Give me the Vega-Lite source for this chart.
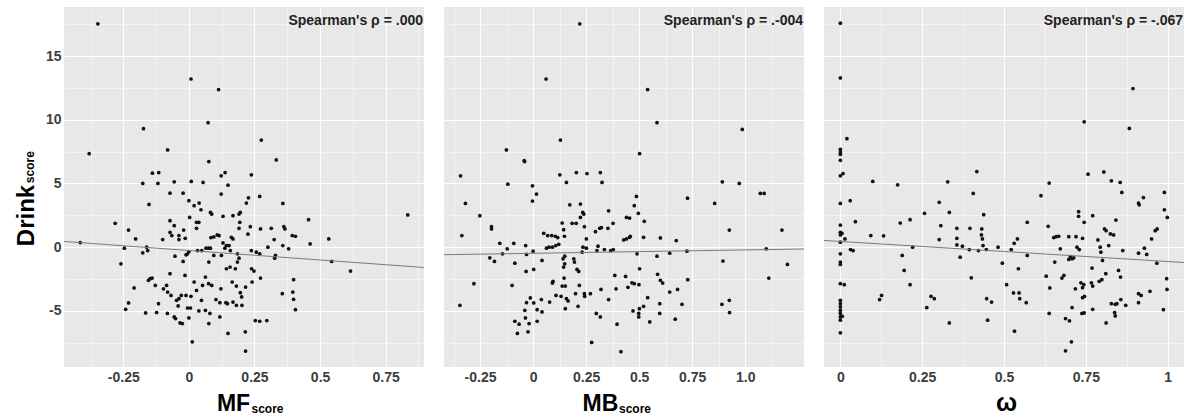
{
"$schema": "https://vega.github.io/schema/vega-lite/v6.json",
"padding": {"left": 14, "top": 7, "right": 5, "bottom": 0},
"spacing": 16,
"config": {
 "view": {"fill": "#e8e8e8", "stroke": null},
 "axis": {"labelFont": "Liberation Sans", "labelFontWeight": "bold", "labelFontSize": 14, "labelColor": "#3d3d3d", "titleFont": "Liberation Sans", "titleFontWeight": "bold", "titleColor": "#000000", "domain": false, "ticks": false, "tickSize": 0, "tickCount": 100, "gridColor": "#ffffff", "labelPadding": 3, "labelOverlap": false, "labelFlush": false},
 "text": {"font": "Liberation Sans"}
},
"datasets": {
 "sub": [{"label": "score"}],
 "a1": [{"label": "Spearman's ρ = .000"}],
 "a2": [{"label": "Spearman's ρ = .-004"}],
 "a3": [{"label": "Spearman's ρ = -.067"}],
 "f1": [{"x": -0.476, "y": 0.45}, {"x": 0.896, "y": -1.59}],
 "f2": [{"x": -0.42, "y": -0.59}, {"x": 1.277, "y": -0.14}],
 "f3": [{"x": -0.05, "y": 0.53}, {"x": 1.05, "y": -1.2}],
 "p1": [
{"x":-0.347,"y":17.53},{"x":0.008,"y":13.2},{"x":0.113,"y":12.37},{"x":0.073,"y":9.77},{"x":-0.173,"y":9.3},{"x":0.276,"y":8.41},{"x":-0.38,"y":7.34},{"x":-0.081,"y":7.63},{"x":0.076,"y":6.72},{"x":0.333,"y":6.85},
{"x":-0.139,"y":5.81},{"x":-0.115,"y":5.86},{"x":0.123,"y":5.6},{"x":0.138,"y":5.86},{"x":0.238,"y":5.68},{"x":-0.176,"y":5.0},{"x":-0.118,"y":5.0},{"x":-0.056,"y":5.13},{"x":0.009,"y":5.16},{"x":0.054,"y":5.08},
{"x":0.149,"y":4.87},{"x":-0.072,"y":4.24},{"x":-0.022,"y":4.24},{"x":0.123,"y":4.17},{"x":0.27,"y":3.98},{"x":0.227,"y":3.88},{"x":-0.152,"y":3.36},{"x":0,"y":3.65},{"x":0.039,"y":3.46},{"x":0.02,"y":3.26},
{"x":0.046,"y":2.94},{"x":0.219,"y":3.46},{"x":0.358,"y":3.44},{"x":0.082,"y":2.73},{"x":0.087,"y":2.6},{"x":-0.072,"y":2.08},{"x":0.003,"y":2.34},{"x":0.029,"y":1.95},{"x":0.038,"y":1.95},{"x":0.13,"y":2.42},
{"x":0.168,"y":2.47},{"x":0.191,"y":2.6},{"x":0.196,"y":2.73},{"x":-0.281,"y":1.875},{"x":-0.23,"y":1.35},{"x":-0.056,"y":1.69},{"x":-0.02,"y":1.35},{"x":0.029,"y":1.48},{"x":0.194,"y":1.95},{"x":0.191,"y":1.48},
{"x":0.234,"y":1.61},{"x":0.273,"y":1.43},{"x":0.314,"y":1.48},{"x":0.362,"y":1.61},{"x":0.366,"y":1.43},{"x":0.456,"y":2.16},{"x":0.834,"y":2.53},{"x":-0.203,"y":0.65},{"x":-0.414,"y":0.36},{"x":-0.1,"y":0.6},
{"x":-0.072,"y":1.17},{"x":-0.065,"y":0.91},{"x":-0.038,"y":0.91},{"x":-0.038,"y":0.6},{"x":-0.014,"y":0.7},{"x":0.084,"y":0.76},{"x":0.095,"y":0.81},{"x":0.108,"y":0.96},{"x":0.115,"y":0.91},{"x":0.13,"y":0.34},
{"x":0.162,"y":0.78},{"x":0.168,"y":0.65},{"x":0.225,"y":1.02},{"x":0.325,"y":0.6},{"x":0.394,"y":0.91},{"x":0.406,"y":0.86},{"x":0.533,"y":0.65},{"x":0.462,"y":0.26},{"x":-0.246,"y":-0.08},{"x":-0.161,"y":0},
{"x":-0.157,"y":-0.26},{"x":-0.176,"y":-0.44},{"x":0,"y":-0.34},{"x":-0.005,"y":-0.52},{"x":0.033,"y":-0.26},{"x":0.049,"y":-0.26},{"x":0.065,"y":-0.08},{"x":0.075,"y":-0.08},{"x":0.082,"y":-0.08},{"x":-0.053,"y":-0.7},
{"x":0.095,"y":-0.65},{"x":0.137,"y":-0.08},{"x":0.143,"y":0.13},{"x":0.153,"y":0.13},{"x":0.158,"y":-0.26},{"x":0.185,"y":-0.52},{"x":0.191,"y":-0.86},{"x":0.238,"y":-0.26},{"x":0.257,"y":-0.39},{"x":0.27,"y":-0.52},
{"x":0.301,"y":0},{"x":0.33,"y":-0.65},{"x":0.327,"y":-0.86},{"x":0.358,"y":0.13},{"x":0.38,"y":-0.13},{"x":0.544,"y":-1.12},{"x":0.616,"y":-1.875},{"x":-0.259,"y":-1.3},{"x":-0.022,"y":-1.12},{"x":0.076,"y":-1.17},
{"x":0.124,"y":-0.65},{"x":0.185,"y":-1.17},{"x":0.143,"y":-1.69},{"x":0.157,"y":-1.56},{"x":0.177,"y":-1.69},{"x":0.239,"y":-1.69},{"x":0.248,"y":-1.875},{"x":-0.148,"y":-2.47},{"x":-0.14,"y":-2.42},{"x":-0.154,"y":-2.6},
{"x":-0.072,"y":-2.08},{"x":-0.015,"y":-2.21},{"x":0.063,"y":-2.34},{"x":0.165,"y":-2.73},{"x":0.241,"y":-2.73},{"x":0.273,"y":-2.42},{"x":0.399,"y":-2.55},{"x":-0.209,"y":-3.2},{"x":-0.128,"y":-3.0},{"x":-0.097,"y":-3.26},
{"x":-0.085,"y":-3.0},{"x":0.02,"y":-2.73},{"x":0.052,"y":-3.0},{"x":0.075,"y":-2.86},{"x":0.087,"y":-3.0},{"x":0.122,"y":-3.26},{"x":0.029,"y":-3.39},{"x":0.181,"y":-3.05},{"x":0.216,"y":-3.13},{"x":-0.081,"y":-3.52},
{"x":-0.068,"y":-3.78},{"x":-0.029,"y":-3.78},{"x":-0.011,"y":-3.78},{"x":0.008,"y":-3.85},{"x":-0.038,"y":-4.04},{"x":-0.047,"y":-4.17},{"x":0.196,"y":-3.57},{"x":0.201,"y":-3.9},{"x":0.356,"y":-3.65},{"x":0.396,"y":-3.52},
{"x":0.399,"y":-4.09},{"x":0.406,"y":-4.9},{"x":-0.23,"y":-4.375},{"x":-0.116,"y":-4.43},{"x":0.048,"y":-4.17},{"x":0.103,"y":-4.11},{"x":0.118,"y":-4.35},{"x":0.141,"y":-4.35},{"x":0.147,"y":-4.43},{"x":0.168,"y":-4.3},
{"x":0.181,"y":-4.56},{"x":0.202,"y":-4.56},{"x":-0.041,"y":-4.61},{"x":-0.241,"y":-4.87},{"x":-0.005,"y":-4.77},{"x":0.006,"y":-4.77},{"x":-0.165,"y":-5.16},{"x":-0.123,"y":-5.13},{"x":-0.082,"y":-5.2},{"x":-0.056,"y":-5.47},
{"x":-0.051,"y":-5.6},{"x":0,"y":-5.55},{"x":0.038,"y":-5.0},{"x":0.063,"y":-4.95},{"x":0.08,"y":-5.2},{"x":0.118,"y":-5.47},{"x":-0.034,"y":-5.94},{"x":-0.025,"y":-5.99},{"x":0.076,"y":-5.99},{"x":0.253,"y":-5.76},
{"x":0.27,"y":-5.81},{"x":0.297,"y":-5.76},{"x":0.149,"y":-6.77},{"x":0.215,"y":-6.64},{"x":0.013,"y":-7.42},{"x":0.216,"y":-8.15},{"x":-0.011,"y":-0.6}
 ],
 "p2": [
{"x":0.22,"y":17.53},{"x":0.061,"y":13.2},{"x":0.54,"y":12.37},{"x":0.584,"y":9.77},{"x":0.986,"y":9.24},{"x":0.129,"y":8.41},{"x":-0.126,"y":7.63},{"x":0.502,"y":7.34},{"x":-0.042,"y":6.8},{"x":-0.04,"y":6.72},
{"x":-0.342,"y":5.6},{"x":0.204,"y":5.86},{"x":0.254,"y":5.78},{"x":0.317,"y":5.86},{"x":0.126,"y":5.68},{"x":-0.119,"y":4.95},{"x":0.157,"y":5.08},{"x":0.325,"y":5.08},{"x":-0.003,"y":4.82},{"x":0.016,"y":4.17},
{"x":-0.003,"y":3.62},{"x":0.892,"y":5.13},{"x":0.972,"y":5.0},{"x":1.071,"y":4.22},{"x":1.089,"y":4.22},{"x":-0.319,"y":3.44},{"x":-0.251,"y":2.47},{"x":0.173,"y":3.33},{"x":0.223,"y":3.39},{"x":0.234,"y":2.73},
{"x":0.239,"y":2.6},{"x":0.223,"y":2.34},{"x":0.356,"y":2.86},{"x":0.487,"y":3.98},{"x":0.477,"y":3.26},{"x":0.496,"y":2.66},{"x":0.728,"y":3.85},{"x":0.856,"y":3.44},{"x":0.44,"y":2.34},{"x":0.455,"y":2.29},
{"x":0.524,"y":2.03},{"x":-0.196,"y":1.61},{"x":-0.196,"y":1.43},{"x":0.137,"y":1.9},{"x":0.184,"y":1.875},{"x":0.203,"y":1.875},{"x":0.242,"y":1.61},{"x":0.144,"y":1.38},{"x":0.314,"y":1.48},{"x":0.294,"y":1.22},
{"x":0.322,"y":1.54},{"x":0.353,"y":1.48},{"x":0.377,"y":1.875},{"x":-0.336,"y":0.91},{"x":0.05,"y":1.09},{"x":0.069,"y":0.91},{"x":0.088,"y":0.91},{"x":0.105,"y":0.86},{"x":0.116,"y":0.76},{"x":0.148,"y":0.86},
{"x":0.251,"y":0.65},{"x":0.427,"y":0.57},{"x":0.44,"y":0.65},{"x":0.455,"y":0.78},{"x":0.458,"y":0.86},{"x":0.521,"y":0.78},{"x":0.6,"y":0.73},{"x":0.675,"y":0.52},{"x":1.173,"y":1.35},{"x":0.925,"y":1.35},
{"x":-0.157,"y":0.31},{"x":-0.122,"y":-0.13},{"x":-0.091,"y":0.31},{"x":-0.035,"y":0.13},{"x":-0.144,"y":-0.52},{"x":-0.204,"y":-0.83},{"x":-0.182,"y":-1.12},{"x":-0.031,"y":-0.57},{"x":0,"y":-0.31},{"x":0.063,"y":-0.08},
{"x":0.075,"y":0},{"x":0.091,"y":0},{"x":0.107,"y":0.13},{"x":0.121,"y":0.23},{"x":0.235,"y":0},{"x":0.251,"y":-0.08},{"x":0.231,"y":-0.39},{"x":0.306,"y":0.08},{"x":0.301,"y":-0.26},{"x":0.336,"y":-0.18},
{"x":0.366,"y":-0.26},{"x":0.378,"y":-0.18},{"x":0.49,"y":-0.52},{"x":0.584,"y":-0.7},{"x":0.644,"y":-0.47},{"x":0.725,"y":-0.31},{"x":1.099,"y":-0.13},{"x":1.199,"y":-1.35},{"x":0.895,"y":-1.09},{"x":0.042,"y":-1.04},
{"x":0.149,"y":-0.7},{"x":0.192,"y":-0.91},{"x":0.195,"y":-1.17},{"x":0.149,"y":-1.3},{"x":0.144,"y":-1.56},{"x":0.207,"y":-1.74},{"x":0.215,"y":-1.9},{"x":-0.086,"y":-1.25},{"x":-0.033,"y":-1.9},{"x":0.003,"y":-1.74},
{"x":0.146,"y":-2.42},{"x":0.094,"y":-2.68},{"x":0.091,"y":-2.81},{"x":0.137,"y":-3.05},{"x":0.152,"y":-3.05},{"x":0.218,"y":-3.0},{"x":0.385,"y":-2.21},{"x":0.436,"y":-2.29},{"x":0.502,"y":-1.69},{"x":0.587,"y":-2.13},
{"x":0.6,"y":-2.6},{"x":0.611,"y":-2.81},{"x":0.466,"y":-2.79},{"x":0.477,"y":-2.86},{"x":0.499,"y":-2.94},{"x":0.447,"y":-3.15},{"x":0.391,"y":-3.26},{"x":0.32,"y":-3.31},{"x":-0.279,"y":-2.86},{"x":-0.099,"y":-3.0},
{"x":0.681,"y":-3.31},{"x":0.644,"y":-3.52},{"x":0.729,"y":-2.55},{"x":1.111,"y":-2.42},{"x":0.108,"y":-3.78},{"x":0.132,"y":-3.85},{"x":0.157,"y":-4.04},{"x":0.165,"y":-4.22},{"x":0.152,"y":-4.82},{"x":0.2,"y":-3.65},
{"x":0.242,"y":-3.65},{"x":0.243,"y":-3.85},{"x":0.27,"y":-3.65},{"x":0.212,"y":-4.64},{"x":0.356,"y":-4.11},{"x":-0.013,"y":-3.98},{"x":-0.031,"y":-4.35},{"x":0.003,"y":-4.375},{"x":0.039,"y":-4.11},{"x":0.078,"y":-4.3},
{"x":0.019,"y":-4.9},{"x":0.042,"y":-5.08},{"x":-0.039,"y":-4.95},{"x":-0.345,"y":-4.56},{"x":-0.036,"y":-5.55},{"x":-0.086,"y":-5.81},{"x":-0.066,"y":-6.04},{"x":-0.019,"y":-5.99},{"x":0.019,"y":-5.81},{"x":-0.074,"y":-6.77},
{"x":-0.024,"y":-6.64},{"x":0.298,"y":-5.2},{"x":0.317,"y":-5.47},{"x":0.396,"y":-6.04},{"x":0.276,"y":-7.47},{"x":0.414,"y":-8.2},{"x":0.471,"y":-5.0},{"x":0.501,"y":-4.82},{"x":0.498,"y":-5.2},{"x":0.498,"y":-5.47},
{"x":0.521,"y":-4.64},{"x":0.54,"y":-3.96},{"x":0.55,"y":-5.86},{"x":0.597,"y":-4.43},{"x":0.597,"y":-5.2},{"x":0.67,"y":-5.65},{"x":0.702,"y":-4.48},{"x":0.89,"y":-4.48},{"x":0.925,"y":-4.17},{"x":0.926,"y":-5.13},
{"x":0.141,"y":-0.91}
 ],
 "p3": [
{"x":0,"y":17.58},{"x":0,"y":13.28},{"x":0.894,"y":12.45},{"x":0.745,"y":9.84},{"x":0.883,"y":9.32},{"x":0.02,"y":8.52},{"x":0,"y":7.68},{"x":0,"y":7.47},{"x":0,"y":7.29},{"x":0,"y":6.82},
{"x":0,"y":5.6},{"x":0.008,"y":5.78},{"x":0.417,"y":5.94},{"x":0.099,"y":5.16},{"x":0.175,"y":4.9},{"x":0.328,"y":5.13},{"x":0.638,"y":5.03},{"x":0.757,"y":5.73},{"x":0.805,"y":5.91},{"x":0.828,"y":5.21},
{"x":0.855,"y":5.08},{"x":0.86,"y":4.3},{"x":0.406,"y":4.22},{"x":0.613,"y":4.04},{"x":0.99,"y":4.3},{"x":0.926,"y":3.9},{"x":0.911,"y":3.46},{"x":0.913,"y":3.33},{"x":0,"y":3.44},{"x":0.03,"y":3.65},
{"x":0.302,"y":3.52},{"x":0.333,"y":2.73},{"x":0.257,"y":2.66},{"x":0.438,"y":2.55},{"x":0.728,"y":2.79},{"x":0.728,"y":2.42},{"x":0.771,"y":2.47},{"x":0.99,"y":2.94},{"x":0.999,"y":2.34},{"x":0.046,"y":2.0},
{"x":0.183,"y":1.9},{"x":0.213,"y":2.16},{"x":0.571,"y":1.95},{"x":0.745,"y":1.95},{"x":0.842,"y":2.13},{"x":0,"y":1.74},{"x":0,"y":1.17},{"x":0,"y":0.96},{"x":0.005,"y":1.09},{"x":0.307,"y":1.69},
{"x":0.356,"y":1.48},{"x":0.396,"y":1.48},{"x":0.432,"y":1.43},{"x":0.635,"y":1.64},{"x":0.807,"y":1.43},{"x":0.812,"y":1.3},{"x":0.825,"y":1.04},{"x":0.835,"y":0.96},{"x":0.968,"y":1.43},{"x":0.962,"y":1.3},
{"x":0.951,"y":0.65},{"x":0.093,"y":0.91},{"x":0.132,"y":0.89},{"x":0.014,"y":0.65},{"x":0,"y":0.39},{"x":0.302,"y":0.6},{"x":0.356,"y":0.7},{"x":0.356,"y":0.18},{"x":0.431,"y":0.96},{"x":0.434,"y":0.65},
{"x":0.652,"y":0.76},{"x":0.659,"y":0.83},{"x":0.667,"y":0.86},{"x":0.698,"y":0.83},{"x":0.72,"y":0.83},{"x":0.74,"y":0.7},{"x":0.787,"y":0.57},{"x":0.541,"y":0.65},{"x":0.531,"y":0.31},{"x":0.031,"y":-0.18},
{"x":0.039,"y":-0.26},{"x":0.221,"y":0},{"x":0.373,"y":0.08},{"x":0.394,"y":-0.18},{"x":0.422,"y":-0.26},{"x":0.436,"y":0.13},{"x":0.446,"y":-0.18},{"x":0.482,"y":0},{"x":0.522,"y":-0.18},{"x":0.672,"y":-0.13},
{"x":0.723,"y":0},{"x":0.73,"y":-0.18},{"x":0.794,"y":0},{"x":0.796,"y":-0.39},{"x":0.82,"y":0.13},{"x":0.863,"y":-0.26},{"x":0.929,"y":-0.08},{"x":0.911,"y":-0.47},{"x":0.936,"y":-0.57},{"x":0,"y":-0.52},
{"x":0,"y":-1.17},{"x":0,"y":-1.35},{"x":0.189,"y":-0.65},{"x":0.366,"y":-0.78},{"x":0.571,"y":-0.65},{"x":0.703,"y":-0.73},{"x":0.708,"y":-0.91},{"x":0.713,"y":-0.83},{"x":0.698,"y":-0.96},{"x":0.655,"y":-1.17},
{"x":0.801,"y":-1.04},{"x":0.967,"y":-1.25},{"x":0.495,"y":-1.25},{"x":0.195,"y":-1.82},{"x":0.544,"y":-1.69},{"x":0.769,"y":-1.64},{"x":0.85,"y":-1.82},{"x":0.811,"y":-2.08},{"x":0.856,"y":-2.34},{"x":0.4,"y":-2.4},
{"x":0.629,"y":-2.27},{"x":0.683,"y":-2.21},{"x":0.677,"y":-2.42},{"x":0.997,"y":-2.47},{"x":0,"y":-2.86},{"x":0.012,"y":-2.94},{"x":0.213,"y":-2.94},{"x":0.508,"y":-2.94},{"x":0.64,"y":-3.2},{"x":0.718,"y":-3.26},
{"x":0.735,"y":-2.79},{"x":0.744,"y":-2.94},{"x":0.74,"y":-3.18},{"x":0.767,"y":-2.79},{"x":0.771,"y":-3.05},{"x":0.791,"y":-2.68},{"x":0.799,"y":-2.55},{"x":0.919,"y":-3.78},{"x":0.911,"y":-3.65},{"x":0.946,"y":-3.46},
{"x":0.998,"y":-3.31},{"x":0.746,"y":-3.85},{"x":0.74,"y":-3.96},{"x":0.529,"y":-3.59},{"x":0.546,"y":-3.59},{"x":0.548,"y":-4.04},{"x":0.126,"y":-3.78},{"x":0.12,"y":-4.11},{"x":0.277,"y":-3.85},{"x":0.287,"y":-4.04},
{"x":0.447,"y":-4.04},{"x":0.462,"y":-4.3},{"x":0.568,"y":-4.35},{"x":0,"y":-4.17},{"x":0,"y":-4.43},{"x":0,"y":-4.69},{"x":0,"y":-4.95},{"x":0,"y":-5.2},{"x":0,"y":-5.47},{"x":0,"y":-5.73},
{"x":0.006,"y":-5.42},{"x":0,"y":-6.72},{"x":0.264,"y":-4.74},{"x":0.708,"y":-4.74},{"x":0.771,"y":-4.87},{"x":0.828,"y":-4.43},{"x":0.84,"y":-4.48},{"x":0.845,"y":-4.43},{"x":0.857,"y":-4.11},{"x":0.872,"y":-4.56},
{"x":0.911,"y":-4.35},{"x":0.987,"y":-4.9},{"x":0.638,"y":-5.2},{"x":0.745,"y":-5.16},{"x":0.738,"y":-5.2},{"x":0.838,"y":-5.13},{"x":0.84,"y":-5.39},{"x":0.333,"y":-5.94},{"x":0.45,"y":-5.73},{"x":0.532,"y":-6.59},
{"x":0.688,"y":-5.6},{"x":0.7,"y":-5.78},{"x":0.812,"y":-5.94},{"x":0.706,"y":-7.42},{"x":0.688,"y":-8.13}
 ]
},
"hconcat": [
 {
  "width": 360, "height": 360,
  "layer": [
   {"data": {"name": "p1"}, "mark": {"type": "circle", "size": 14, "color": "#111111", "opacity": 1},
    "encoding": {
     "x": {"field": "x", "type": "quantitative", "scale": {"domain": [-0.476, 0.896], "nice": false, "zero": false},
      "axis": {"values": [-0.375,-0.25,-0.125,0,0.125,0.25,0.375,0.5,0.625,0.75,0.875],
       "labelExpr": "abs(datum.value*4-round(datum.value*4))<0.001 ? ''+datum.value : ''",
       "gridWidth": {"condition": {"test": "abs(datum.value*4-round(datum.value*4))<0.001", "value": 1}, "value": 0.5},
       "title": "MF", "titleFontSize": 23, "titleX": 169, "titleY": 43, "titleBaseline": "alphabetic", "titleAlign": "center"}},
     "y": {"field": "y", "type": "quantitative", "scale": {"domain": [-9.4, 18.85], "nice": false, "zero": false},
      "axis": {"values": [-7.5,-5,-2.5,0,2.5,5,7.5,10,12.5,15,17.5],
       "labelExpr": "datum.value % 5 == 0 ? ''+datum.value : ''",
       "gridWidth": {"condition": {"test": "datum.value % 5 == 0", "value": 1}, "value": 0.5},
       "title": "Drink", "titleFontSize": 24, "titleAngle": 270, "titleX": -31, "titleY": 208, "titleBaseline": "alphabetic", "titleAlign": "center"}}
    }},
   {"data": {"name": "f1"}, "mark": {"type": "line", "color": "#7a7a7a", "strokeWidth": 1},
    "encoding": {"x": {"field": "x", "type": "quantitative"},
                 "y": {"field": "y", "type": "quantitative"}}},
   {"data": {"name": "a1"}, "mark": {"type": "text", "align": "right", "baseline": "middle", "fontSize": 14, "fontWeight": "bold", "color": "#222222", "dx": -1},
    "encoding": {"x": {"datum": 0.896, "type": "quantitative"},
                 "y": {"datum": 17.77, "type": "quantitative"},
                 "text": {"field": "label"}}},
   {"data": {"name": "sub"}, "mark": {"type": "text", "align": "left", "baseline": "alphabetic", "fontSize": 12, "fontWeight": "bold", "color": "#000000"},
    "encoding": {"x": {"datum": 0.2385, "type": "quantitative"},
                 "y": {"datum": -12.99, "type": "quantitative"},
                 "text": {"field": "label"}}},
   {"data": {"name": "sub"}, "mark": {"type": "text", "align": "center", "baseline": "alphabetic", "angle": 270, "fontSize": 12, "fontWeight": "bold", "color": "#000000"},
    "encoding": {"x": {"datum": -0.592, "type": "quantitative"},
                 "y": {"datum": 6.28, "type": "quantitative"},
                 "text": {"field": "label"}}}
  ]
 },
 {
  "width": 360, "height": 360,
  "layer": [
   {"data": {"name": "p2"}, "mark": {"type": "circle", "size": 14, "color": "#111111", "opacity": 1},
    "encoding": {
     "x": {"field": "x", "type": "quantitative", "scale": {"domain": [-0.42, 1.277], "nice": false, "zero": false},
      "axis": {"values": [-0.375,-0.25,-0.125,0,0.125,0.25,0.375,0.5,0.625,0.75,0.875,1,1.125],
       "labelExpr": "abs(datum.value*4-round(datum.value*4))<0.001 ? (datum.value == 1 ? '1.0' : ''+datum.value) : ''",
       "gridWidth": {"condition": {"test": "abs(datum.value*4-round(datum.value*4))<0.001", "value": 1}, "value": 0.5},
       "title": "MB", "titleFontSize": 23, "titleX": 156, "titleY": 43, "titleBaseline": "alphabetic", "titleAlign": "center"}},
     "y": {"field": "y", "type": "quantitative", "scale": {"domain": [-9.4, 18.85], "nice": false, "zero": false},
      "axis": {"values": [-7.5,-5,-2.5,0,2.5,5,7.5,10,12.5,15,17.5], "labels": false, "ticks": false, "domain": false, "title": null,
       "gridWidth": {"condition": {"test": "datum.value % 5 == 0", "value": 1}, "value": 0.5}}}
    }},
   {"data": {"name": "f2"}, "mark": {"type": "line", "color": "#7a7a7a", "strokeWidth": 1},
    "encoding": {"x": {"field": "x", "type": "quantitative"},
                 "y": {"field": "y", "type": "quantitative"}}},
   {"data": {"name": "a2"}, "mark": {"type": "text", "align": "right", "baseline": "middle", "fontSize": 14, "fontWeight": "bold", "color": "#222222", "dx": -1},
    "encoding": {"x": {"datum": 1.277, "type": "quantitative"},
                 "y": {"datum": 17.77, "type": "quantitative"},
                 "text": {"field": "label"}}},
   {"data": {"name": "sub"}, "mark": {"type": "text", "align": "left", "baseline": "alphabetic", "fontSize": 12, "fontWeight": "bold", "color": "#000000"},
    "encoding": {"x": {"datum": 0.405, "type": "quantitative"},
                 "y": {"datum": -12.99, "type": "quantitative"},
                 "text": {"field": "label"}}}
  ]
 },
 {
  "width": 360, "height": 360,
  "layer": [
   {"data": {"name": "p3"}, "mark": {"type": "circle", "size": 14, "color": "#111111", "opacity": 1},
    "encoding": {
     "x": {"field": "x", "type": "quantitative", "scale": {"domain": [-0.05, 1.05], "nice": false, "zero": false},
      "axis": {"values": [0,0.125,0.25,0.375,0.5,0.625,0.75,0.875,1],
       "labelExpr": "abs(datum.value*4-round(datum.value*4))<0.001 ? ''+datum.value : ''",
       "gridWidth": {"condition": {"test": "abs(datum.value*4-round(datum.value*4))<0.001", "value": 1}, "value": 0.5},
       "title": "ω", "titleFontSize": 25, "titleX": 182, "titleY": 43, "titleBaseline": "alphabetic", "titleAlign": "center"}},
     "y": {"field": "y", "type": "quantitative", "scale": {"domain": [-9.4, 18.85], "nice": false, "zero": false},
      "axis": {"values": [-7.5,-5,-2.5,0,2.5,5,7.5,10,12.5,15,17.5], "labels": false, "ticks": false, "domain": false, "title": null,
       "gridWidth": {"condition": {"test": "datum.value % 5 == 0", "value": 1}, "value": 0.5}}}
    }},
   {"data": {"name": "f3"}, "mark": {"type": "line", "color": "#7a7a7a", "strokeWidth": 1},
    "encoding": {"x": {"field": "x", "type": "quantitative"},
                 "y": {"field": "y", "type": "quantitative"}}},
   {"data": {"name": "a3"}, "mark": {"type": "text", "align": "right", "baseline": "middle", "fontSize": 14, "fontWeight": "bold", "color": "#222222", "dx": -1},
    "encoding": {"x": {"datum": 1.05, "type": "quantitative"},
                 "y": {"datum": 17.77, "type": "quantitative"},
                 "text": {"field": "label"}}}
  ]
 }
]
}
